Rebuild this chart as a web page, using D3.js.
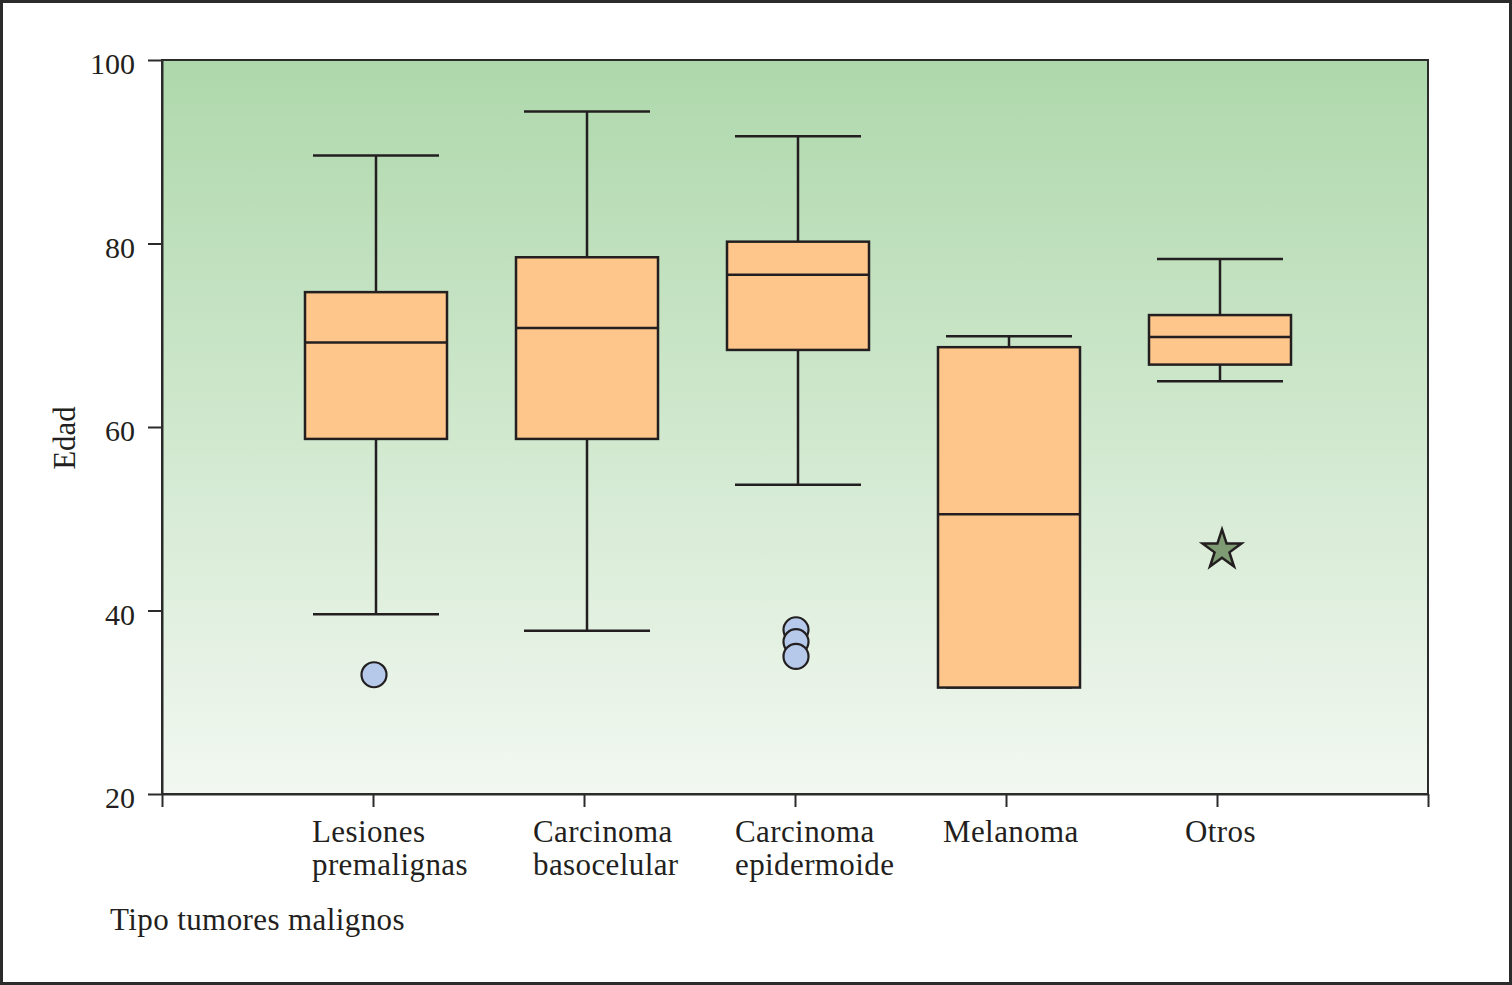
<!DOCTYPE html>
<html>
<head>
<meta charset="utf-8">
<script src="https://cdn.jsdelivr.net/npm/d3@7"></script>
<style>
  body { margin: 0; background: #fff; }
  text { font-family: 'Liberation Serif', 'DejaVu Serif', serif; fill: #231f20; }
</style>
</head>
<body>
<div id="chart"></div>
<script>
// Data
const categories = [['Lesiones', 'premalignas'], ['Carcinoma', 'basocelular'], ['Carcinoma', 'epidermoide'], ['Melanoma'], ['Otros']];
const whiskerHigh = [89.6, 94.4, 91.7, 69.9, 78.3];
const q3 = [74.7, 78.5, 80.2, 68.7, 72.2];
const medians = [69.2, 70.8, 76.6, 50.5, 69.8];
const q1 = [58.7, 58.7, 68.4, 31.6, 66.8];
const whiskerLow = [39.6, 37.8, 53.7, 31.6, 65.0];
const outliers = [[33.0], [], [37.9, 36.6, 35.0], [], []];
const extremes = [[], [], [], [], [46.6]];
const yTicks = [20, 40, 60, 80, 100];
const yLabel = 'Edad';
const xLabel = 'Tipo tumores malignos';

// Dimensions
const margin = { top: 60, right: 84, bottom: 191, left: 162 };
const width = 1512 - margin.left - margin.right;
const height = 985 - margin.top - margin.bottom;

const svg = d3.select('#chart')
    .append('svg')
    .attr('width', 1512)
    .attr('height', 985);

// outer frame
svg.append('rect')
    .attr('x', 1.5).attr('y', 1.5)
    .attr('width', 1509).attr('height', 982)
    .attr('fill', 'none')
    .attr('stroke', '#2b2b2b')
    .attr('stroke-width', 3);

// background gradient
const grad = svg.append('defs').append('linearGradient')
    .attr('id', 'bg')
    .attr('x1', 0).attr('y1', 0).attr('x2', 0).attr('y2', 1);
grad.append('stop').attr('offset', '0%').attr('stop-color', '#aed8ab');
grad.append('stop').attr('offset', '100%').attr('stop-color', '#f2f8f1');

const g = svg.append('g')
    .attr('transform', `translate(${margin.left}, ${margin.top})`);

g.append('rect')
    .attr('width', width)
    .attr('height', height)
    .attr('fill', 'url(#bg)')
    .attr('stroke', '#2b2b2b')
    .attr('stroke-width', 2);

// Scales
const xScale = d3.scaleLinear().domain([0, categories.length + 1]).range([0, width]);
const yScale = d3.scaleLinear().domain([20, 100]).range([height, 0]);

// Axes
const yAxis = g.append('g')
    .call(d3.axisLeft(yScale).tickValues(yTicks).tickSize(14).tickSizeOuter(0).tickPadding(13));
yAxis.selectAll('text')
    .attr('font-size', 30)
    .attr('font-family', "'Liberation Serif', serif")
    .attr('fill', '#231f20')
    .attr('dy', '0.45em');

const xAxis = g.append('g')
    .attr('transform', `translate(0, ${height})`)
    .call(d3.axisBottom(xScale).tickValues(d3.range(0, categories.length + 2)).tickSize(13).tickSizeOuter(0).tickFormat(''));

[yAxis, xAxis].forEach(ax => {
    ax.selectAll('line').attr('stroke', '#2b2b2b').attr('stroke-width', 2);
    ax.select('.domain').attr('stroke', '#2b2b2b').attr('stroke-width', 2);
});

// Category labels (left aligned, offsets as in the figure)
const labelShift = [-61, -51, -60, -63, -32];
categories.forEach((lines, i) => {
    const t = g.append('text')
        .attr('x', xScale(i + 1) + labelShift[i])
        .attr('y', height + 48)
        .attr('font-size', 31)
        .attr('letter-spacing', 0.4);
    lines.forEach((l, j) => {
        t.append('tspan')
            .attr('x', xScale(i + 1) + labelShift[i])
            .attr('dy', j === 0 ? 0 : 33)
            .text(l);
    });
});

// Axis titles
svg.append('text')
    .attr('transform', `translate(75, ${margin.top + yScale(60) + 11}) rotate(-90)`)
    .attr('text-anchor', 'middle')
    .attr('font-size', 31)
    .text(yLabel);

svg.append('text')
    .attr('x', 110)
    .attr('y', 930)
    .attr('font-size', 31)
    .attr('letter-spacing', 0.4)
    .text(xLabel);

// Boxes
const boxW = 142;
const capW = 126;
const shift = 3;
const strokeC = '#231f20';

const boxes = categories.map((c, i) => ({
    i, hi: whiskerHigh[i], q3: q3[i], med: medians[i], q1: q1[i], lo: whiskerLow[i]
}));

const bg = g.selectAll('.box')
    .data(boxes)
    .join('g')
    .attr('class', 'box')
    .attr('transform', d => `translate(${xScale(d.i + 1) + shift}, 0)`);

// whiskers
bg.append('line')
    .attr('x1', 0).attr('x2', 0)
    .attr('y1', d => yScale(d.hi)).attr('y2', d => yScale(d.q3))
    .attr('stroke', strokeC).attr('stroke-width', 2.5);
bg.append('line')
    .attr('x1', 0).attr('x2', 0)
    .attr('y1', d => yScale(d.q1)).attr('y2', d => yScale(d.lo))
    .attr('stroke', strokeC).attr('stroke-width', 2.5);
// caps
bg.append('line')
    .attr('x1', -capW / 2).attr('x2', capW / 2)
    .attr('y1', d => yScale(d.hi)).attr('y2', d => yScale(d.hi))
    .attr('stroke', strokeC).attr('stroke-width', 2.5);
bg.append('line')
    .attr('x1', -capW / 2).attr('x2', capW / 2)
    .attr('y1', d => yScale(d.lo)).attr('y2', d => yScale(d.lo))
    .attr('stroke', strokeC).attr('stroke-width', 2.5);

// box
bg.append('rect')
    .attr('x', -boxW / 2)
    .attr('width', boxW)
    .attr('y', d => yScale(d.q3))
    .attr('height', d => yScale(d.q1) - yScale(d.q3))
    .attr('fill', '#fec68a')
    .attr('stroke', strokeC)
    .attr('stroke-width', 2.5);
// median
bg.append('line')
    .attr('x1', -boxW / 2).attr('x2', boxW / 2)
    .attr('y1', d => yScale(d.med)).attr('y2', d => yScale(d.med))
    .attr('stroke', strokeC).attr('stroke-width', 2.5);

// Outliers (circles)
const outPts = outliers.flatMap((arr, i) => arr.map(v => ({ i, v })));
g.selectAll('.outlier')
    .data(outPts)
    .join('circle')
    .attr('class', 'outlier')
    .attr('cx', d => xScale(d.i + 1) + 1)
    .attr('cy', d => yScale(d.v))
    .attr('r', 12.5)
    .attr('fill', '#b6c9ea')
    .attr('stroke', strokeC)
    .attr('stroke-width', 2.2);

// Extremes (stars)
const extPts = extremes.flatMap((arr, i) => arr.map(v => ({ i, v })));
g.selectAll('.extreme')
    .data(extPts)
    .join('path')
    .attr('class', 'extreme')
    .attr('d', d3.symbol().type(d3.symbolStar).size(470))
    .attr('transform', d => `translate(${xScale(d.i + 1) + 5}, ${yScale(d.v)})`)
    .attr('fill', '#7f9b73')
    .attr('stroke', strokeC)
    .attr('stroke-width', 2.5);
</script>
</body>
</html>
